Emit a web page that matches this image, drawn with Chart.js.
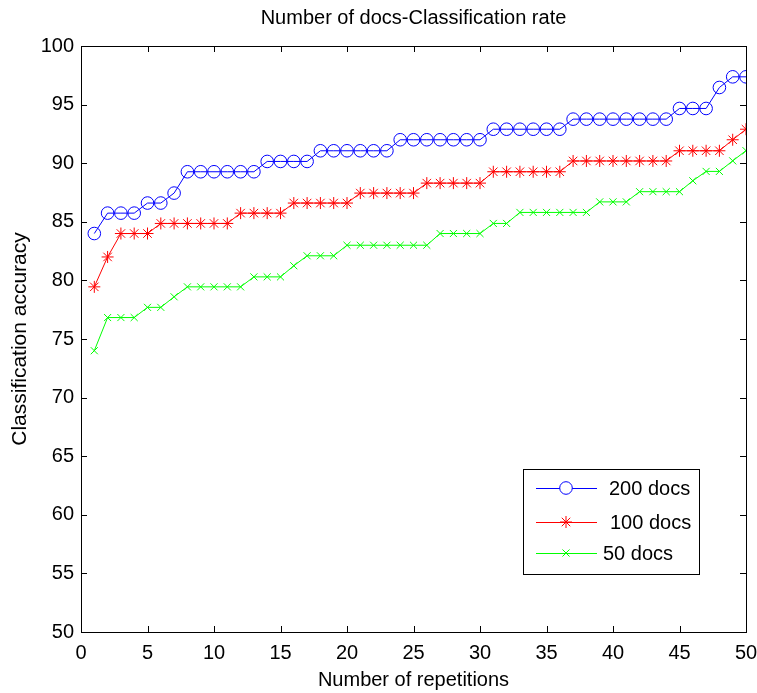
<!DOCTYPE html>
<html>
<head>
<meta charset="utf-8">
<script src="https://cdn.jsdelivr.net/npm/chart.js@4.4.0/dist/chart.umd.min.js"></script>
<style>
  html, body { margin: 0; padding: 0; background: #fff; }
  #wrap { width: 757px; height: 693px; }
</style>
</head>
<body>
<div id="wrap"><canvas id="chart" width="757" height="693"></canvas></div>
<script>
// Number of repetitions (x axis)
var reps = [1, 2, 3, 4, 5, 6, 7, 8, 9, 10, 11, 12, 13, 14, 15, 16, 17, 18, 19, 20,
            21, 22, 23, 24, 25, 26, 27, 28, 29, 30, 31, 32, 33, 34, 35, 36, 37, 38, 39, 40,
            41, 42, 43, 44, 45, 46, 47, 48, 49, 50];

// Classification accuracy
var docs200 = [84.0, 85.74, 85.74, 85.74, 86.6, 86.6, 87.45, 89.27, 89.27, 89.27,
               89.27, 89.27, 89.27, 90.15, 90.15, 90.15, 90.15, 91.06, 91.06, 91.06,
               91.06, 91.06, 91.06, 92.0, 92.0, 92.0, 92.0, 92.0, 92.0, 92.0,
               92.9, 92.9, 92.9, 92.9, 92.9, 92.9, 93.76, 93.76, 93.76, 93.76,
               93.76, 93.76, 93.76, 93.76, 94.67, 94.67, 94.67, 96.46, 97.37, 97.37];
var docs100 = [79.45, 82.0, 84.0, 84.0, 84.0, 84.86, 84.86, 84.86, 84.86, 84.86,
               84.86, 85.74, 85.74, 85.74, 85.74, 86.6, 86.6, 86.6, 86.6, 86.6,
               87.45, 87.45, 87.45, 87.45, 87.45, 88.3, 88.3, 88.3, 88.3, 88.3,
               89.27, 89.27, 89.27, 89.27, 89.27, 89.27, 90.19, 90.19, 90.19, 90.19,
               90.19, 90.19, 90.19, 90.19, 91.06, 91.06, 91.06, 91.06, 92.0, 92.9];
var docs50 = [74.0, 76.83, 76.83, 76.83, 77.7, 77.7, 78.6, 79.45, 79.45, 79.45,
              79.45, 79.45, 80.3, 80.3, 80.3, 81.25, 82.1, 82.1, 82.1, 83.0,
              83.0, 83.0, 83.0, 83.0, 83.0, 83.0, 84.0, 84.0, 84.0, 84.0,
              84.86, 84.86, 85.8, 85.8, 85.8, 85.8, 85.8, 85.8, 86.7, 86.7,
              86.7, 87.57, 87.57, 87.57, 87.57, 88.5, 89.3, 89.3, 90.2, 91.07];

var seriesNames = ['200 docs', '100 docs', '50 docs'];
var xTicks = [0, 5, 10, 15, 20, 25, 30, 35, 40, 45, 50];
var yTicks = [50, 55, 60, 65, 70, 75, 80, 85, 90, 95, 100];

var FONT = '"Liberation Sans", Arial, sans-serif';

function pairs(ys) {
  return ys.map(function(y, i) { return { x: reps[i], y: y }; });
}

// MATLAB style box with inward ticks on all four sides, plus the legend
var boxPlugin = {
  id: 'box',
  afterDraw: function(chart) {
    var ctx = chart.ctx;
    var a = chart.chartArea;
    var xs = chart.scales.x, ys = chart.scales.y;
    ctx.save();
    ctx.strokeStyle = '#000';
    ctx.lineWidth = 1;
    ctx.strokeRect(Math.round(a.left) + 0.5, Math.round(a.top) + 0.5,
                   Math.round(a.right - a.left), Math.round(a.bottom - a.top));
    ctx.beginPath();
    xTicks.forEach(function(v) {
      var px = Math.round(xs.getPixelForValue(v)) + 0.5;
      ctx.moveTo(px, a.bottom); ctx.lineTo(px, a.bottom - 6);
      ctx.moveTo(px, a.top); ctx.lineTo(px, a.top + 6);
    });
    yTicks.forEach(function(v) {
      var py = Math.round(ys.getPixelForValue(v)) + 0.5;
      ctx.moveTo(a.left, py); ctx.lineTo(a.left + 6, py);
      ctx.moveTo(a.right, py); ctx.lineTo(a.right - 6, py);
    });
    ctx.stroke();

    // legend
    var lx = 523, ly = 469, lw = 176, lh = 105;
    ctx.fillStyle = '#fff';
    ctx.fillRect(lx, ly, lw, lh);
    ctx.strokeRect(lx + 0.5, ly + 0.5, lw, lh);
    ctx.font = '20px ' + FONT;
    ctx.textBaseline = 'middle';
    ctx.textAlign = 'left';
    var rowY = [19, 53, 84];
    var textX = [86, 87, 80];
    chart.data.datasets.forEach(function(ds, i) {
      var y = ly + rowY[i];
      ctx.strokeStyle = ds.borderColor;
      ctx.lineWidth = 1;
      ctx.beginPath();
      ctx.moveTo(lx + 13, y + 0.5); ctx.lineTo(lx + 74, y + 0.5);
      ctx.stroke();
      Chart.helpers.drawPoint(ctx, {
        pointStyle: ds.pointStyle, radius: ds.pointRadius, rotation: 0,
        borderWidth: 1
      }, lx + 43, y);
      ctx.fillStyle = '#000';
      ctx.fillText(ds.label, lx + textX[i], y + 1);
    });
    ctx.restore();
  }
};

var ctx = document.getElementById('chart');
var myChart = new Chart(ctx, {
  type: 'line',
  data: {
    datasets: [{
      label: seriesNames[0],
      data: pairs(docs200),
      borderColor: '#0000ff',
      backgroundColor: 'rgba(0,0,0,0)',
      pointStyle: 'circle',
      pointRadius: 6.3,
      pointBorderWidth: 1,
      borderWidth: 1
    }, {
      label: seriesNames[1],
      data: pairs(docs100),
      borderColor: '#ff0000',
      backgroundColor: 'rgba(0,0,0,0)',
      pointStyle: 'star',
      pointRadius: 6,
      pointBorderWidth: 1,
      borderWidth: 1
    }, {
      label: seriesNames[2],
      data: pairs(docs50),
      borderColor: '#00ff00',
      backgroundColor: 'rgba(0,0,0,0)',
      pointStyle: 'crossRot',
      pointRadius: 5,
      pointBorderWidth: 1,
      borderWidth: 1
    }]
  },
  options: {
    responsive: false,
    animation: false,
    events: [],
    layout: { padding: { left: 0, right: 11, top: 0, bottom: 0 }, autoPadding: false },
    plugins: {
      legend: { display: false },
      tooltip: { enabled: false },
      title: {
        display: true,
        fullSize: false,
        text: 'Number of docs-Classification rate',
        color: '#000',
        font: { family: FONT, size: 20, weight: 'normal', lineHeight: 1.2 },
        padding: { top: 6, bottom: 16 }
      }
    },
    scales: {
      x: {
        type: 'linear',
        min: 0, max: 50,
        afterFit: function(s) { s.height = 61; s.paddingLeft = 0; s.paddingRight = 0; },
        afterBuildTicks: function(s) { s.ticks = xTicks.map(function(v) { return { value: v }; }); },
        grid: { drawOnChartArea: false, drawTicks: false },
        border: { display: false },
        ticks: { color: '#000', padding: 9, maxRotation: 0, font: { family: FONT, size: 20 } },
        title: {
          display: true, text: 'Number of repetitions', color: '#000',
          font: { family: FONT, size: 20 }, padding: { top: 0, bottom: 1 }
        }
      },
      y: {
        min: 50, max: 100,
        afterFit: function(s) { s.width = 81; s.paddingTop = 0; s.paddingBottom = 0; },
        afterBuildTicks: function(s) { s.ticks = yTicks.map(function(v) { return { value: v }; }); },
        grid: { drawOnChartArea: false, drawTicks: false },
        border: { display: false },
        ticks: { color: '#000', padding: 7, font: { family: FONT, size: 20 } },
        title: {
          display: true, text: 'Classification accuracy', color: '#000',
          font: { family: FONT, size: 21 }, padding: { top: 8, bottom: 0 }
        }
      }
    }
  },
  plugins: [boxPlugin]
});
</script>
</body>
</html>
